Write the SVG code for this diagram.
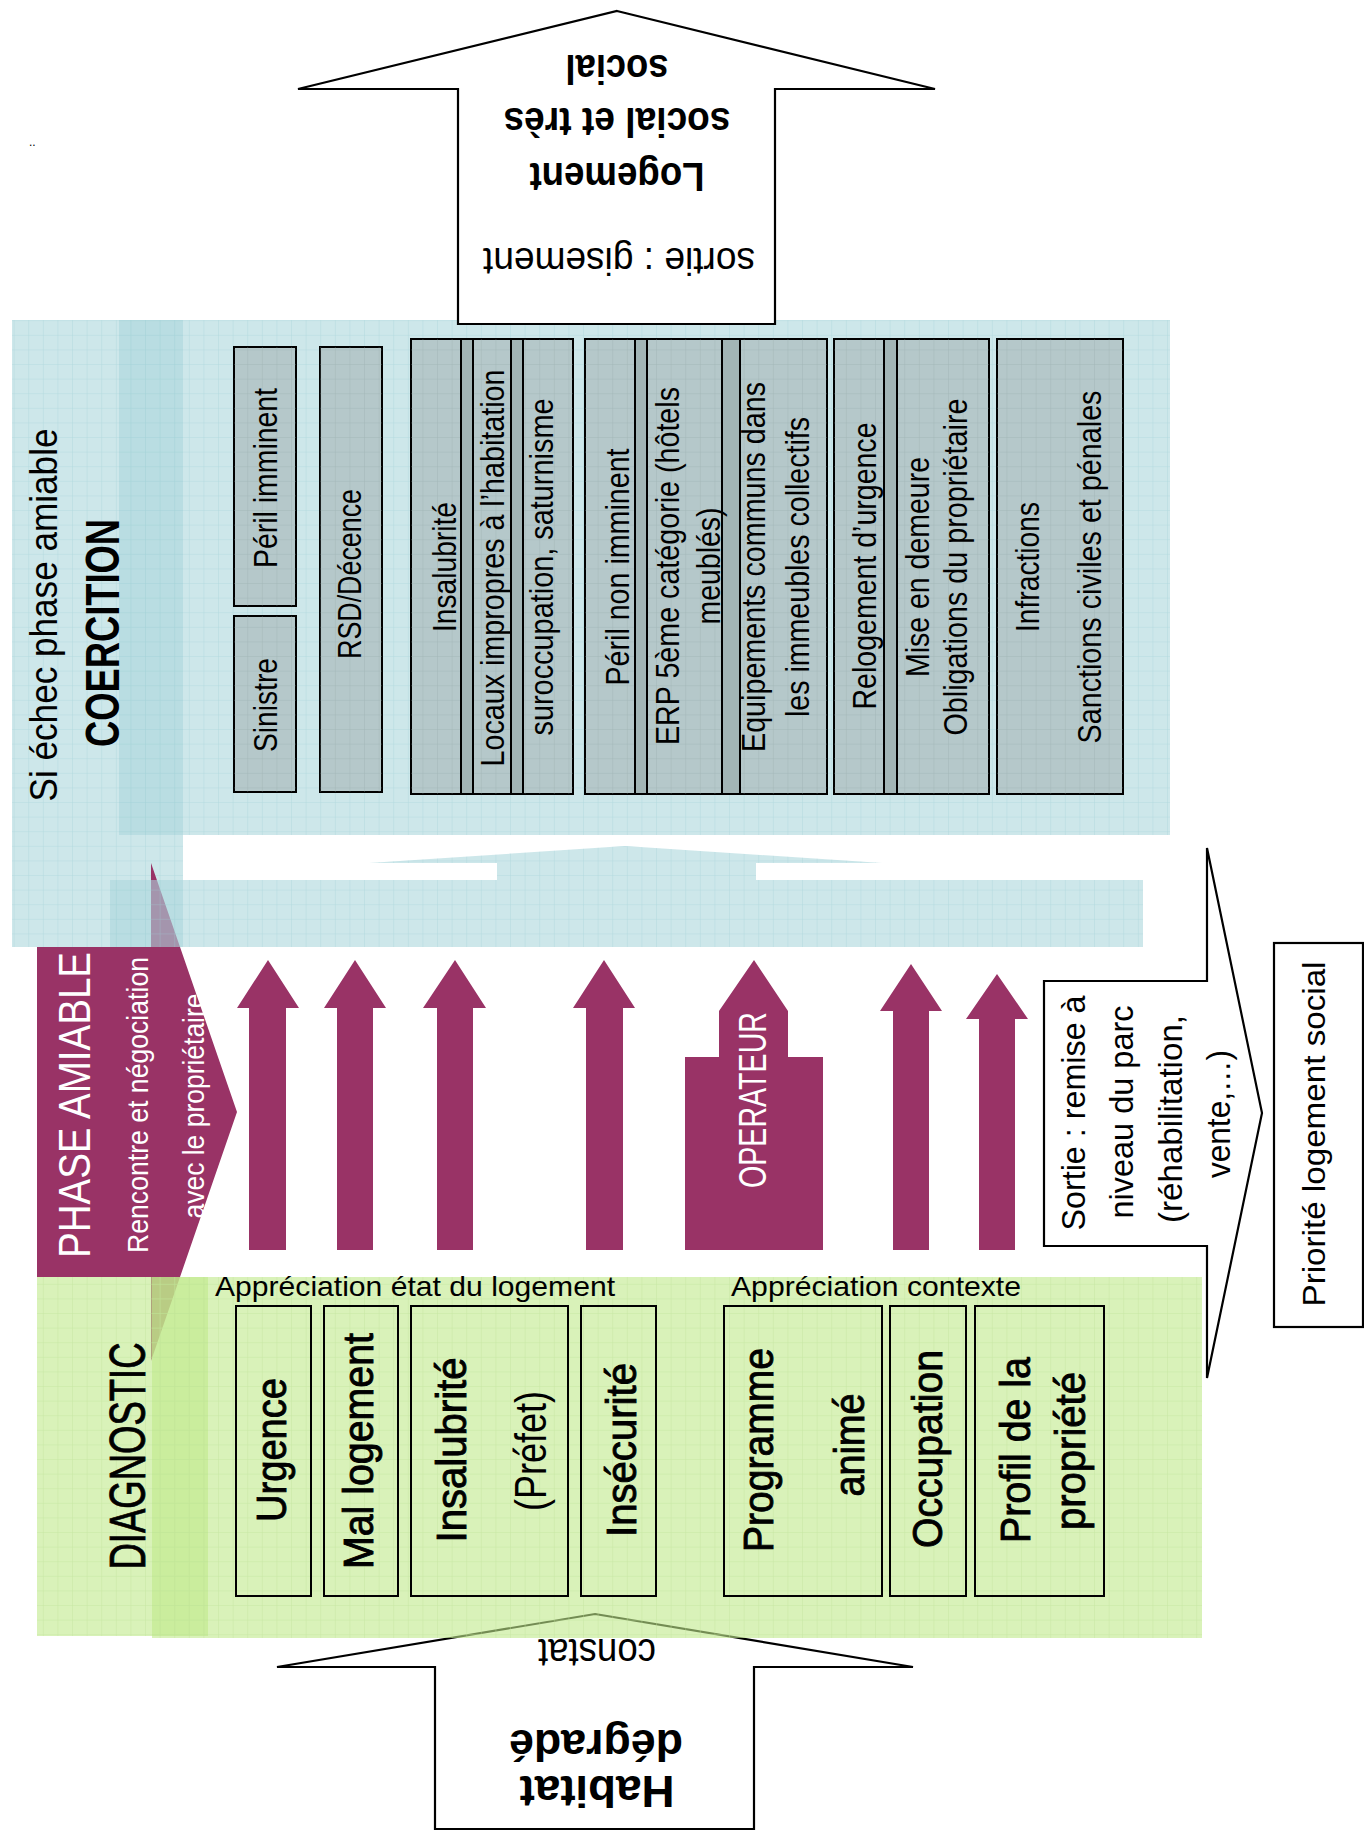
<svg xmlns="http://www.w3.org/2000/svg" width="1364" height="1831" viewBox="0 0 1364 1831">
<defs>
<pattern id="gridB" patternUnits="userSpaceOnUse" width="14.6" height="14.6">
<path d="M14.6 0V14.6M0 14.6H14.6" fill="none" stroke="#9fd0d5" stroke-opacity="0.55" stroke-width="1"/>
</pattern>
<pattern id="gridG" patternUnits="userSpaceOnUse" width="14.6" height="14.6">
<path d="M14.6 0V14.6M0 14.6H14.6" fill="none" stroke="#bfe39a" stroke-opacity="0.7" stroke-width="1"/>
</pattern>
<pattern id="gridK" patternUnits="userSpaceOnUse" width="14.6" height="14.6">
<path d="M14.6 0V14.6M0 14.6H14.6" fill="none" stroke="#8fa5a6" stroke-opacity="0.5" stroke-width="1"/>
</pattern>
<style>
text{font-family:"Liberation Sans",Arial,sans-serif;fill:#000}
.blue{fill:#acd7dc;fill-opacity:.6}
.green{fill:#c0e98a;fill-opacity:.6}
.gb{fill:url(#gridB)}
.gg{fill:url(#gridG)}
.box{fill:#b5c8ca;stroke:#000;stroke-width:2}
.strip{fill:#a2b5b6;stroke:#000;stroke-width:2}
.gk{fill:url(#gridK)}
.out{fill:#fff;stroke:#000;stroke-width:2.2;stroke-linejoin:miter}
.dbox{fill:none;stroke:#000;stroke-width:2}
.mag{fill:#993366}
.c{font-size:33px;text-anchor:middle}
.d{font-size:42px;text-anchor:middle;stroke:#000;stroke-width:0.9}
.w{fill:#fff;text-anchor:middle}
.s{font-size:32.5px;text-anchor:middle}
</style>
</defs>
<rect width="1364" height="1831" fill="#fff"/>

<g id="coercition-panel">
<rect class="blue" x="119" y="320" width="1051" height="515"/>
<rect class="gb" x="119" y="320" width="1051" height="515"/>
<rect class="blue" x="12" y="320" width="171" height="627"/>
<rect class="gb" x="12" y="320" width="171" height="627"/>
</g>

<g id="phase-amiable">
<path class="mag" d="M37 947H151V863L237 1112L151 1361V1277H37Z"/>
</g>

<g id="coercition-base">
<path class="blue" d="M110 947V880H497V863H369L625 846L882 863H756V880H1143V947Z"/>
<path class="gb" d="M110 947V880H497V863H369L625 846L882 863H756V880H1143V947Z"/>
</g>

<g id="top-arrow">
<path class="out" d="M617 11L935 89H775V324H458V89H298Z"/>
<text transform="rotate(180 617 55)" x="617" y="55" font-size="40" font-weight="bold" text-anchor="middle" textLength="103" lengthAdjust="spacingAndGlyphs">social</text>
<text transform="rotate(180 617 108)" x="617" y="108" font-size="40" font-weight="bold" text-anchor="middle" textLength="227" lengthAdjust="spacingAndGlyphs">social et très</text>
<text transform="rotate(180 617 163)" x="617" y="163" font-size="40" font-weight="bold" text-anchor="middle" textLength="175" lengthAdjust="spacingAndGlyphs">Logement</text>
<text transform="rotate(180 619 248)" x="619" y="248" font-size="38" text-anchor="middle" textLength="272" lengthAdjust="spacingAndGlyphs">sortie : gisement</text>
</g>

<text x="29" y="146" font-size="12">..</text>

<g id="coercion-col-labels">
<text transform="translate(57 615) rotate(-90)" font-size="38" text-anchor="middle" textLength="373" lengthAdjust="spacingAndGlyphs">Si échec phase amiable</text>
<text transform="translate(119 633) rotate(-90)" font-size="48" font-weight="bold" text-anchor="middle" textLength="228" lengthAdjust="spacingAndGlyphs">COERCITION</text>
</g>

<g id="box-peril-imminent">
<rect class="box" x="234" y="347" width="62" height="259"/>
<rect class="gk" x="234" y="347" width="62" height="259"/>
<text class="c" transform="translate(277 478) rotate(-90)" textLength="180" lengthAdjust="spacingAndGlyphs">Péril imminent</text>
</g>
<g id="box-sinistre">
<rect class="box" x="234" y="616" width="62" height="176"/>
<rect class="gk" x="234" y="616" width="62" height="176"/>
<text class="c" transform="translate(277 705) rotate(-90)" textLength="94" lengthAdjust="spacingAndGlyphs">Sinistre</text>
</g>
<g id="box-rsd">
<rect class="box" x="320" y="347" width="62" height="445"/>
<rect class="gk" x="320" y="347" width="62" height="445"/>
<text class="c" transform="translate(361 574) rotate(-90)" textLength="170" lengthAdjust="spacingAndGlyphs">RSD/Décence</text>
</g>
<g id="box-insalubrite">
<rect class="box" x="411" y="339" width="162" height="455"/>
<rect class="gk" x="411" y="339" width="162" height="455"/>
<rect class="strip" x="461" y="339" width="12" height="455"/>
<rect class="strip" x="511" y="339" width="12" height="455"/>
<text class="c" transform="translate(456 567) rotate(-90)" textLength="130" lengthAdjust="spacingAndGlyphs">Insalubrité</text>
<text class="c" transform="translate(504 568) rotate(-90)" textLength="397" lengthAdjust="spacingAndGlyphs">Locaux impropres à l’habitation</text>
<text class="c" transform="translate(553 567) rotate(-90)" textLength="337" lengthAdjust="spacingAndGlyphs">suroccupation, saturnisme</text>
</g>
<g id="box-peril-non-imminent">
<rect class="box" x="585" y="339" width="242" height="455"/>
<rect class="gk" x="585" y="339" width="242" height="455"/>
<rect class="strip" x="635" y="339" width="12" height="455"/>
<rect class="strip" x="722" y="339" width="18" height="455"/>
<text class="c" transform="translate(629 567) rotate(-90)" textLength="237" lengthAdjust="spacingAndGlyphs">Péril non imminent</text>
<text class="c" transform="translate(679 566) rotate(-90)" textLength="358" lengthAdjust="spacingAndGlyphs">ERP 5ème catégorie (hôtels</text>
<text class="c" transform="translate(720 566) rotate(-90)" textLength="117" lengthAdjust="spacingAndGlyphs">meublés)</text>
<text class="c" transform="translate(765 567) rotate(-90)" textLength="370" lengthAdjust="spacingAndGlyphs">Equipements communs dans</text>
<text class="c" transform="translate(809 567) rotate(-90)" textLength="300" lengthAdjust="spacingAndGlyphs">les immeubles collectifs</text>
</g>
<g id="box-relogement">
<rect class="box" x="834" y="339" width="155" height="455"/>
<rect class="gk" x="834" y="339" width="155" height="455"/>
<rect class="strip" x="884" y="339" width="13" height="455"/>
<text class="c" transform="translate(876 566) rotate(-90)" textLength="287" lengthAdjust="spacingAndGlyphs">Relogement d’urgence</text>
<text class="c" transform="translate(929 567) rotate(-90)" textLength="220" lengthAdjust="spacingAndGlyphs">Mise en demeure</text>
<text class="c" transform="translate(967 567) rotate(-90)" textLength="337" lengthAdjust="spacingAndGlyphs">Obligations du propriétaire</text>
</g>
<g id="box-infractions">
<rect class="box" x="997" y="339" width="126" height="455"/>
<rect class="gk" x="997" y="339" width="126" height="455"/>
<text class="c" transform="translate(1039 567) rotate(-90)" textLength="130" lengthAdjust="spacingAndGlyphs">Infractions</text>
<text class="c" transform="translate(1101 567) rotate(-90)" textLength="353" lengthAdjust="spacingAndGlyphs">Sanctions civiles et pénales</text>
</g>

<g id="phase-amiable-labels">
<text class="w" font-size="44" transform="translate(90 1105) rotate(-90)" textLength="306" lengthAdjust="spacingAndGlyphs">PHASE AMIABLE</text>
<text class="w" font-size="30" transform="translate(148 1105) rotate(-90)" textLength="296" lengthAdjust="spacingAndGlyphs">Rencontre et négociation</text>
<text class="w" font-size="30" transform="translate(204 1106) rotate(-90)" textLength="225" lengthAdjust="spacingAndGlyphs">avec le propriétaire</text>
</g>

<g id="connectors">
<path class="mag" d="M268 960L299 1008H286V1250H249V1008H237Z"/>
<path class="mag" d="M355 960L386 1008H373V1250H337V1008H324Z"/>
<path class="mag" d="M455 960L486 1008H473V1250H437V1008H423Z"/>
<path class="mag" d="M604 960L635 1008H623V1250H586V1008H573Z"/>
<path class="mag" d="M911 964L942 1011H929V1250H893V1011H880Z"/>
<path class="mag" d="M997 974L1028 1019H1015V1250H979V1019H966Z"/>
</g>

<g id="operateur">
<path class="mag" d="M685 1250V1057H719V1011L754 960L788 1011V1057H823V1250Z"/>
<text class="w" font-size="38" transform="translate(766 1100) rotate(-90)" textLength="176" lengthAdjust="spacingAndGlyphs">OPERATEUR</text>
</g>

<g id="habitat-degrade">
<path class="out" d="M595 1614L913 1667H754V1829H435V1667H277Z"/>
<text transform="rotate(180 597 1639)" x="597" y="1639" font-size="40" text-anchor="middle" textLength="118" lengthAdjust="spacingAndGlyphs">constat</text>
<text transform="rotate(180 596 1730)" x="596" y="1730" font-size="44" font-weight="bold" text-anchor="middle" textLength="174" lengthAdjust="spacingAndGlyphs">dégradé</text>
<text transform="rotate(180 597 1776)" x="597" y="1776" font-size="44" font-weight="bold" text-anchor="middle" textLength="155" lengthAdjust="spacingAndGlyphs">Habitat</text>
</g>

<g id="diagnostic-panel">
<rect class="green" x="37" y="1277" width="171" height="359"/>
<rect class="gg" x="37" y="1277" width="171" height="359"/>
<rect class="green" x="152" y="1277" width="1050" height="361"/>
<rect class="gg" x="152" y="1277" width="1050" height="361"/>
<text transform="translate(145 1456) rotate(-90)" font-size="50" text-anchor="middle" stroke="#000" stroke-width="0.8" textLength="227" lengthAdjust="spacingAndGlyphs">DIAGNOSTIC</text>
<text x="215" y="1296" font-size="28" textLength="400" lengthAdjust="spacingAndGlyphs">Appréciation état du logement</text>
<text x="731" y="1296" font-size="28" textLength="290" lengthAdjust="spacingAndGlyphs">Appréciation contexte</text>
</g>

<g id="diag-urgence">
<rect class="dbox" x="236" y="1306" width="75" height="290"/>
<text class="d" transform="translate(286 1450) rotate(-90)" textLength="144" lengthAdjust="spacingAndGlyphs">Urgence</text>
</g>
<g id="diag-mal-logement">
<rect class="dbox" x="324" y="1306" width="74" height="290"/>
<text class="d" transform="translate(373 1451) rotate(-90)" textLength="236" lengthAdjust="spacingAndGlyphs">Mal logement</text>
</g>
<g id="diag-insalubrite">
<rect class="dbox" x="411" y="1306" width="157" height="290"/>
<text class="d" transform="translate(466 1450) rotate(-90)" textLength="185" lengthAdjust="spacingAndGlyphs">Insalubrité</text>
<text transform="translate(546 1451) rotate(-90)" font-size="44" text-anchor="middle" textLength="120" lengthAdjust="spacingAndGlyphs">(Préfet)</text>
</g>
<g id="diag-insecurite">
<rect class="dbox" x="581" y="1306" width="75" height="290"/>
<text class="d" transform="translate(636 1450) rotate(-90)" textLength="174" lengthAdjust="spacingAndGlyphs">Insécurité</text>
</g>
<g id="diag-programme">
<rect class="dbox" x="724" y="1306" width="158" height="290"/>
<text class="d" transform="translate(773 1450) rotate(-90)" textLength="204" lengthAdjust="spacingAndGlyphs">Programme</text>
<text class="d" transform="translate(864 1445) rotate(-90)" textLength="103" lengthAdjust="spacingAndGlyphs">animé</text>
</g>
<g id="diag-occupation">
<rect class="dbox" x="890" y="1306" width="76" height="290"/>
<text class="d" transform="translate(942 1449) rotate(-90)" textLength="198" lengthAdjust="spacingAndGlyphs">Occupation</text>
</g>
<g id="diag-profil">
<rect class="dbox" x="975" y="1306" width="129" height="290"/>
<text class="d" transform="translate(1030 1450) rotate(-90)" textLength="186" lengthAdjust="spacingAndGlyphs">Profil de la</text>
<text class="d" transform="translate(1085 1451) rotate(-90)" textLength="158" lengthAdjust="spacingAndGlyphs">propriété</text>
</g>

<g id="sortie-remise">
<path class="out" d="M1044 981H1207V848L1262 1113L1207 1378V1246H1044Z"/>
<text class="s" transform="translate(1085 1113) rotate(-90)" textLength="235" lengthAdjust="spacingAndGlyphs">Sortie : remise à</text>
<text class="s" transform="translate(1133 1112) rotate(-90)" textLength="213" lengthAdjust="spacingAndGlyphs">niveau du parc</text>
<text class="s" transform="translate(1182 1119) rotate(-90)" textLength="208" lengthAdjust="spacingAndGlyphs">(réhabilitation,</text>
<text class="s" transform="translate(1230 1114) rotate(-90)" textLength="128" lengthAdjust="spacingAndGlyphs">vente,…)</text>
</g>

<g id="priorite">
<rect class="out" x="1274" y="943" width="89" height="384"/>
<text transform="translate(1325 1134) rotate(-90)" font-size="31" text-anchor="middle" textLength="345" lengthAdjust="spacingAndGlyphs">Priorité logement social</text>
</g>
</svg>
